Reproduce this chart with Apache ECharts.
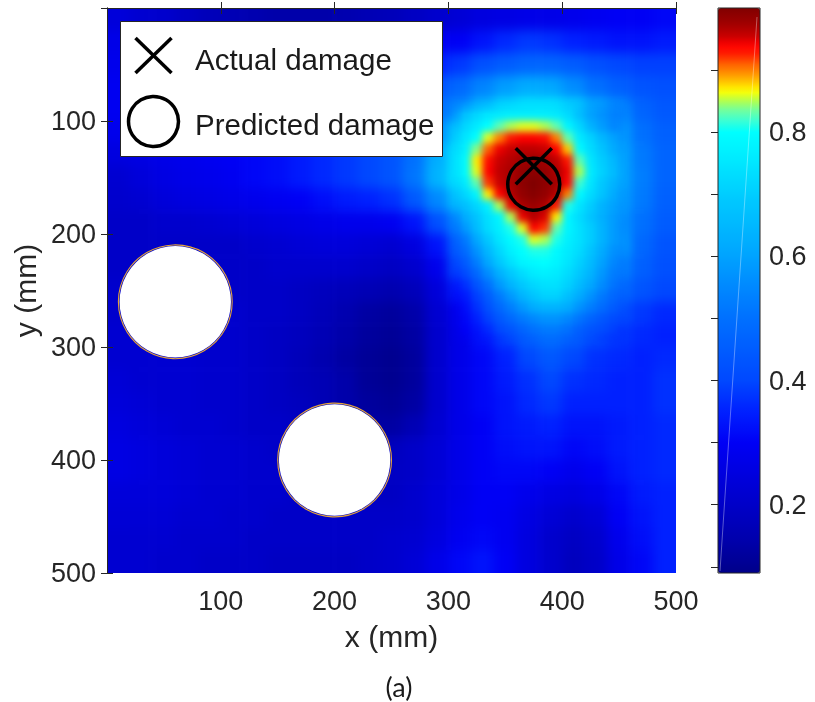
<!DOCTYPE html>
<html>
<head>
<meta charset="utf-8">
<script src="https://cdn.jsdelivr.net/npm/echarts@6/dist/echarts.min.js"></script>
<style>
html, body { margin: 0; padding: 0; background: #ffffff; }
#page { position: relative; width: 815px; height: 702px; overflow: hidden; }
/* the damage field sits inside the plot rectangle, shaded smoothly */
#fieldClip { position: absolute; left: 107px; top: 8px; width: 569px; height: 565px; overflow: hidden; z-index: 1; }
#fieldCoarse, #fieldFine { position: absolute; left: -30px; top: -30px; width: 629px; height: 625px; }
#fieldCoarse { filter: blur(6px); }
#fieldFine { filter: blur(3.5px); }
#chart { position: absolute; left: 0; top: 0; width: 815px; height: 702px; z-index: 2; }
</style>
</head>
<body>
<div id="page">
  <div id="fieldClip">
    <div id="fieldCoarse"></div>
    <div id="fieldFine"></div>
  </div>
  <div id="chart"></div>
</div>
<script>
// Damage index over a 500 x 500 mm plate, sampled on 20 mm cells (cell centres)
const gridX = [10, 30, 50, 70, 90, 110, 130, 150, 170, 190, 210, 230, 250, 270, 290, 310, 330, 350, 370, 390, 410, 430, 450, 470, 490];
const gridY = [10, 30, 50, 70, 90, 110, 130, 150, 170, 190, 210, 230, 250, 270, 290, 310, 330, 350, 370, 390, 410, 430, 450, 470, 490];
const damageRows = [
  [0.24,0.22,0.21,0.19,0.17,0.16,0.15,0.14,0.14,0.14,0.15,0.16,0.17,0.19,0.21,0.23,0.25,0.26,0.27,0.27,0.28,0.29,0.30,0.30,0.31],
  [0.27,0.25,0.24,0.22,0.21,0.20,0.19,0.19,0.19,0.20,0.21,0.23,0.25,0.27,0.29,0.30,0.33,0.36,0.38,0.37,0.35,0.34,0.33,0.33,0.34],
  [0.28,0.27,0.26,0.25,0.24,0.24,0.24,0.24,0.25,0.26,0.27,0.29,0.31,0.33,0.35,0.38,0.42,0.45,0.47,0.47,0.45,0.42,0.40,0.39,0.39],
  [0.29,0.28,0.28,0.28,0.28,0.28,0.28,0.29,0.30,0.31,0.32,0.34,0.36,0.39,0.43,0.48,0.54,0.59,0.62,0.61,0.56,0.50,0.46,0.43,0.42],
  [0.29,0.29,0.29,0.29,0.29,0.29,0.30,0.31,0.32,0.33,0.35,0.37,0.39,0.43,0.50,0.55,0.65,0.73,0.76,0.76,0.72,0.62,0.56,0.47,0.44],
  [0.28,0.28,0.28,0.29,0.29,0.30,0.31,0.32,0.33,0.35,0.37,0.39,0.42,0.47,0.56,0.70,0.80,0.88,0.90,0.88,0.80,0.70,0.60,0.50,0.46],
  [0.25,0.26,0.27,0.28,0.29,0.30,0.31,0.32,0.34,0.36,0.38,0.40,0.43,0.50,0.62,0.75,0.90,0.95,0.97,0.96,0.90,0.72,0.62,0.52,0.47],
  [0.22,0.24,0.26,0.27,0.28,0.29,0.31,0.32,0.34,0.36,0.38,0.40,0.43,0.51,0.64,0.75,0.92,0.97,0.99,0.98,0.88,0.73,0.62,0.53,0.47],
  [0.21,0.22,0.24,0.25,0.26,0.27,0.28,0.29,0.30,0.32,0.34,0.35,0.37,0.44,0.55,0.68,0.80,0.95,0.98,0.95,0.80,0.70,0.60,0.52,0.46],
  [0.20,0.20,0.21,0.21,0.22,0.23,0.24,0.25,0.26,0.27,0.28,0.28,0.29,0.33,0.42,0.55,0.73,0.80,0.93,0.90,0.78,0.68,0.58,0.50,0.45],
  [0.20,0.20,0.20,0.20,0.20,0.20,0.21,0.22,0.23,0.24,0.24,0.23,0.22,0.25,0.33,0.48,0.68,0.78,0.83,0.82,0.76,0.70,0.60,0.48,0.43],
  [0.20,0.20,0.20,0.20,0.20,0.20,0.20,0.21,0.21,0.21,0.21,0.20,0.19,0.21,0.28,0.42,0.60,0.72,0.78,0.78,0.73,0.65,0.55,0.46,0.42],
  [0.21,0.20,0.20,0.20,0.20,0.20,0.20,0.20,0.19,0.18,0.17,0.16,0.15,0.17,0.24,0.34,0.48,0.62,0.72,0.74,0.68,0.58,0.49,0.43,0.40],
  [0.21,0.21,0.21,0.21,0.21,0.21,0.20,0.20,0.19,0.17,0.15,0.13,0.12,0.14,0.22,0.28,0.36,0.46,0.55,0.60,0.56,0.48,0.42,0.38,0.36],
  [0.22,0.22,0.22,0.21,0.21,0.21,0.20,0.19,0.18,0.16,0.14,0.12,0.11,0.13,0.21,0.27,0.33,0.39,0.46,0.50,0.46,0.41,0.38,0.36,0.35],
  [0.22,0.22,0.22,0.22,0.21,0.21,0.20,0.19,0.17,0.15,0.13,0.11,0.10,0.12,0.21,0.27,0.31,0.35,0.40,0.44,0.40,0.37,0.36,0.35,0.36],
  [0.23,0.22,0.22,0.22,0.21,0.21,0.20,0.19,0.17,0.16,0.14,0.11,0.10,0.12,0.21,0.27,0.31,0.34,0.37,0.40,0.37,0.36,0.35,0.35,0.37],
  [0.24,0.23,0.22,0.22,0.21,0.21,0.20,0.19,0.18,0.16,0.14,0.12,0.11,0.13,0.21,0.27,0.31,0.33,0.36,0.38,0.35,0.35,0.35,0.35,0.37],
  [0.25,0.24,0.23,0.22,0.22,0.21,0.20,0.20,0.19,0.17,0.15,0.13,0.13,0.16,0.22,0.27,0.30,0.33,0.34,0.35,0.33,0.33,0.34,0.35,0.36],
  [0.26,0.25,0.24,0.23,0.22,0.22,0.21,0.20,0.20,0.18,0.16,0.16,0.18,0.20,0.23,0.27,0.30,0.32,0.33,0.33,0.31,0.32,0.34,0.35,0.36],
  [0.26,0.25,0.24,0.23,0.22,0.22,0.21,0.21,0.20,0.19,0.18,0.18,0.19,0.20,0.23,0.27,0.30,0.31,0.31,0.30,0.28,0.30,0.33,0.35,0.36],
  [0.24,0.24,0.24,0.23,0.22,0.22,0.21,0.21,0.20,0.20,0.19,0.19,0.19,0.21,0.24,0.27,0.30,0.30,0.28,0.26,0.25,0.27,0.31,0.34,0.35],
  [0.23,0.23,0.23,0.22,0.22,0.21,0.21,0.20,0.20,0.20,0.20,0.20,0.20,0.21,0.24,0.28,0.30,0.29,0.26,0.23,0.21,0.23,0.30,0.33,0.35],
  [0.22,0.22,0.22,0.21,0.21,0.21,0.20,0.20,0.20,0.20,0.20,0.20,0.21,0.22,0.25,0.29,0.31,0.29,0.25,0.21,0.19,0.21,0.28,0.32,0.35],
  [0.22,0.22,0.21,0.21,0.20,0.20,0.20,0.19,0.19,0.19,0.19,0.20,0.21,0.23,0.27,0.31,0.33,0.30,0.25,0.21,0.18,0.20,0.27,0.31,0.35]
];

// Finer 10 mm sampling around the damage hot spot and the halo below it
const patchX = [305, 315, 325, 335, 345, 355, 365, 375, 385, 395, 405, 415, 425, 435, 445, 455];
const patchY = [85, 95, 105, 115, 125, 135, 145, 155, 165, 175, 185, 195, 205, 215, 225, 235, 245, 255, 265, 275, 285, 295];
const patchRows = [
  [0.57,0.62,0.66,0.69,0.71,0.72,0.72,0.72,0.72,0.71,0.68,0.63,0.58,0.55,0.52,0.49],
  [0.62,0.67,0.72,0.75,0.76,0.77,0.77,0.77,0.77,0.76,0.73,0.67,0.60,0.57,0.54,0.51],
  [0.65,0.72,0.76,0.80,0.83,0.85,0.86,0.86,0.85,0.83,0.78,0.72,0.64,0.59,0.55,0.52],
  [0.70,0.75,0.80,0.86,0.90,0.93,0.94,0.94,0.935,0.90,0.83,0.76,0.71,0.65,0.60,0.55],
  [0.72,0.77,0.84,0.91,0.945,0.955,0.96,0.96,0.955,0.94,0.88,0.79,0.73,0.68,0.62,0.57],
  [0.74,0.79,0.87,0.935,0.955,0.965,0.975,0.98,0.975,0.96,0.93,0.83,0.75,0.70,0.65,0.59],
  [0.74,0.79,0.86,0.94,0.96,0.97,0.985,0.99,0.985,0.97,0.945,0.85,0.76,0.71,0.66,0.60],
  [0.71,0.76,0.83,0.92,0.955,0.97,0.99,1.0,0.99,0.975,0.94,0.82,0.75,0.69,0.64,0.59],
  [0.67,0.72,0.78,0.87,0.94,0.965,0.985,0.995,0.985,0.965,0.90,0.79,0.73,0.68,0.62,0.57],
  [0.62,0.67,0.72,0.77,0.85,0.945,0.97,0.98,0.97,0.93,0.81,0.75,0.70,0.64,0.60,0.56],
  [0.55,0.62,0.68,0.74,0.78,0.85,0.945,0.965,0.95,0.87,0.78,0.73,0.68,0.63,0.59,0.55],
  [0.50,0.58,0.66,0.73,0.77,0.81,0.86,0.94,0.92,0.83,0.78,0.74,0.70,0.64,0.59,0.54],
  [0.45,0.52,0.61,0.69,0.75,0.79,0.81,0.86,0.85,0.81,0.77,0.74,0.70,0.64,0.59,0.54],
  [0.42,0.49,0.57,0.65,0.72,0.77,0.80,0.81,0.81,0.79,0.76,0.73,0.68,0.62,0.57,0.52],
  [0.39,0.45,0.53,0.61,0.69,0.74,0.78,0.79,0.80,0.78,0.75,0.71,0.66,0.60,0.55,0.50],
  [0.36,0.41,0.48,0.56,0.63,0.69,0.73,0.76,0.77,0.76,0.73,0.69,0.64,0.58,0.53,0.49],
  [0.33,0.37,0.43,0.50,0.58,0.64,0.69,0.72,0.74,0.74,0.71,0.66,0.61,0.56,0.51,0.47],
  [0.31,0.34,0.39,0.45,0.52,0.58,0.64,0.68,0.71,0.71,0.67,0.62,0.57,0.52,0.48,0.44],
  [0.29,0.32,0.37,0.42,0.48,0.53,0.58,0.62,0.64,0.64,0.62,0.57,0.53,0.49,0.45,0.42],
  [0.28,0.31,0.35,0.39,0.44,0.48,0.52,0.55,0.57,0.57,0.55,0.51,0.47,0.44,0.41,0.39],
  [0.27,0.30,0.33,0.36,0.40,0.43,0.47,0.50,0.52,0.52,0.50,0.46,0.43,0.41,0.39,0.37],
  [0.27,0.29,0.32,0.34,0.37,0.40,0.43,0.46,0.48,0.48,0.46,0.43,0.40,0.38,0.37,0.36]
];

// Plate geometry and damage locations (mm)
const holeCenters = [[60, 260], [200, 400]];
const holeRadius = 50;
const actualDamage = [[375, 140]];
const predictedDamage = [[375, 156]];

// Axis and colour-bar ticks
const plateRange = [0, 500];
const colorbarRange = [0.09, 1.0];
const colorbarTicks = [0.1, 0.2, 0.3, 0.4, 0.5, 0.6, 0.7, 0.8, 0.9];
const colorbarLabels = [0.2, 0.4, 0.6, 0.8];

// Colour map anchors (value, colour): jet-like, stretched over the blue range
const colormapStops = [
  [0.09, '#00008a'], [0.15, '#0000b0'], [0.20, '#0000c8'], [0.30, '#0000f5'],
  [0.35, '#0020ff'], [0.40, '#0048ff'], [0.50, '#0070ff'], [0.55, '#0088ff'],
  [0.61, '#00a8ff'], [0.69, '#00c8ff'], [0.80, '#00ffff'], [0.82, '#40ffd0'],
  [0.835, '#70ffa0'], [0.85, '#b0ff50'], [0.866, '#ffff00'], [0.88, '#ffc800'],
  [0.895, '#ff9000'], [0.91, '#ff6000'], [0.925, '#ff2000'], [0.94, '#ff0000'],
  [0.955, '#c80000'], [0.975, '#a00000'], [1.0, '#800000']
];

function hexToRgb(h) {
  return [parseInt(h.slice(1, 3), 16), parseInt(h.slice(3, 5), 16), parseInt(h.slice(5, 7), 16)];
}
function colourAt(v) {
  for (let i = 1; i < colormapStops.length; i++) {
    const [v1, c1] = colormapStops[i];
    const [v0, c0] = colormapStops[i - 1];
    if (v <= v1) {
      const t = (v - v0) / (v1 - v0);
      const a = hexToRgb(c0), b = hexToRgb(c1);
      const rgb = a.map((x, k) => Math.round(x + (b[k] - x) * t));
      return 'rgb(' + rgb.join(',') + ')';
    }
  }
  return colormapStops[colormapStops.length - 1][1];
}
// Evenly spaced palette for the continuous visual maps
const palette = [];
const paletteSteps = 182;
for (let i = 0; i <= paletteSteps; i++) {
  palette.push(colourAt(colorbarRange[0] + (colorbarRange[1] - colorbarRange[0]) * i / paletteSteps));
}

function cellData(xs, ys, rows) {
  const out = [];
  rows.forEach((row, i) => row.forEach((v, j) => out.push([xs[j], ys[i], v])));
  return out;
}

// Cell rectangles; cells on the plate border are stretched past the edge so the
// smooth shading stays solid right up to the frame.
function cellRenderer(half, ext) {
  return function (params, api) {
    const x = api.value(0), y = api.value(1);
    const p0 = api.coord([x - half, y - half]);
    const p1 = api.coord([x + half, y + half]);
    let x0 = Math.min(p0[0], p1[0]), x1 = Math.max(p0[0], p1[0]);
    let y0 = Math.min(p0[1], p1[1]), y1 = Math.max(p0[1], p1[1]);
    if (ext) {
      if (x - half <= plateRange[0]) x0 -= ext;
      if (x + half >= plateRange[1]) x1 += ext;
      if (y - half <= plateRange[0]) y0 -= ext;
      if (y + half >= plateRange[1]) y1 += ext;
    }
    return {
      type: 'rect',
      shape: { x: x0 - 0.3, y: y0 - 0.3, width: x1 - x0 + 0.6, height: y1 - y0 + 0.6 },
      style: { fill: api.visual('color') }
    };
  };
}

function fieldOption(name, half, ext, xs, ys, rows) {
  return {
    animation: false,
    grid: { left: 30, top: 30, width: 569, height: 565 },
    xAxis: { type: 'value', min: plateRange[0], max: plateRange[1], show: false },
    yAxis: { type: 'value', min: plateRange[0], max: plateRange[1], inverse: true, show: false },
    visualMap: {
      show: false, type: 'continuous', min: colorbarRange[0], max: colorbarRange[1],
      dimension: 2, inRange: { color: palette }
    },
    series: [{
      type: 'custom', name: name, coordinateSystem: 'cartesian2d', clip: false, silent: true,
      renderItem: cellRenderer(half, ext), encode: { x: 0, y: 1 },
      data: cellData(xs, ys, rows)
    }]
  };
}

echarts.init(document.getElementById('fieldCoarse'), null, { renderer: 'canvas' })
  .setOption(fieldOption('damage index', 10, 30, gridX, gridY, damageRows));

const fineEl = document.getElementById('fieldFine');
const fineChart = echarts.init(fineEl, null, { renderer: 'canvas' });
fineChart.setOption(fieldOption('damage index (hot spot)', 5, 0, patchX, patchY, patchRows));

// Feather the edges of the fine patch so it blends into the coarse field
(function featherPatch() {
  const lo = fineChart.convertToPixel({ gridIndex: 0 }, [patchX[0] - 5, patchY[0] - 5]);
  const hi = fineChart.convertToPixel({ gridIndex: 0 }, [patchX[patchX.length - 1] + 5, patchY[patchY.length - 1] + 5]);
  const l = Math.min(lo[0], hi[0]), r = Math.max(lo[0], hi[0]);
  const t = Math.min(lo[1], hi[1]), b = Math.max(lo[1], hi[1]);
  const f = 16;
  const h = 'linear-gradient(to right, transparent ' + l + 'px, #000 ' + (l + f) + 'px, #000 ' + (r - f) + 'px, transparent ' + r + 'px)';
  const v = 'linear-gradient(to bottom, transparent ' + t + 'px, #000 ' + (t + f) + 'px, #000 ' + (b - f) + 'px, transparent ' + b + 'px)';
  fineEl.style.webkitMaskImage = h + ', ' + v;
  fineEl.style.webkitMaskComposite = 'source-in';
  fineEl.style.maskImage = h + ', ' + v;
  fineEl.style.maskComposite = 'intersect';
})();

const FONT = "'Liberation Sans', Arial, Helvetica, sans-serif";
const INK = '#262626';

const plateAxis = {
  type: 'value', min: plateRange[0], max: plateRange[1], interval: 100, gridIndex: 0, z: 10,
  axisLine: { show: true, lineStyle: { color: INK, width: 1 } },
  axisTick: { show: true, inside: true, length: 6, lineStyle: { color: INK, width: 1 } },
  splitLine: { show: false }
};

const chart = echarts.init(document.getElementById('chart'), null, { renderer: 'svg' });
chart.setOption({
  animation: false,
  backgroundColor: 'transparent',
  grid: [
    { left: 107, top: 8, width: 569, height: 565 },
    { left: 718, top: 8, width: 42, height: 565, show: true, borderColor: INK, borderWidth: 1, backgroundColor: 'transparent', z: 10 }
  ],
  xAxis: [
    Object.assign({}, plateAxis, {
      position: 'bottom',
      axisLabel: { showMinLabel: false, fontSize: 27, color: INK, fontFamily: FONT, margin: 14 },
      name: 'x (mm)', nameLocation: 'middle', nameGap: 63,
      nameTextStyle: { fontSize: 30, color: INK, fontFamily: FONT, verticalAlign: 'middle' }
    }),
    Object.assign({}, plateAxis, { position: 'top', axisLabel: { show: false } }),
    { type: 'value', gridIndex: 1, min: 0, max: 1, show: false }
  ],
  yAxis: [
    Object.assign({}, plateAxis, {
      position: 'left', inverse: true,
      axisLabel: { showMinLabel: false, fontSize: 27, color: INK, fontFamily: FONT, margin: 11 },
      name: 'y (mm)', nameLocation: 'middle', nameGap: 72,
      nameTextStyle: { fontSize: 30, color: INK, fontFamily: FONT, verticalAlign: 'middle' }
    }),
    Object.assign({}, plateAxis, { position: 'right', inverse: true, axisLabel: { show: false } }),
    {
      type: 'value', gridIndex: 1, position: 'right', z: 12,
      min: colorbarRange[0], max: colorbarRange[1],
      axisLine: { show: false },
      splitLine: { show: false },
      axisTick: { show: true, inside: true, length: 7, lineStyle: { color: INK, width: 1 }, customValues: colorbarTicks },
      axisLabel: { show: true, fontSize: 27, color: INK, fontFamily: FONT, margin: 9,
        customValues: colorbarLabels, formatter: v => v.toFixed(1) }
    }
  ],
  visualMap: {
    type: 'continuous',
    min: colorbarRange[0], max: colorbarRange[1],
    seriesIndex: [],
    calculable: false,
    hoverLink: false,
    left: 718, top: 8,
    itemWidth: 42, itemHeight: 565,
    padding: 0,
    inRange: { color: palette }
  },
  series: [
    {
      type: 'custom', name: 'holes', coordinateSystem: 'cartesian2d',
      xAxisIndex: 0, yAxisIndex: 0, z: 3, silent: true,
      renderItem: function (params, api) {
        const c = api.coord([api.value(0), api.value(1)]);
        const r = api.size([holeRadius, holeRadius])[0];
        return {
          type: 'group',
          children: [
            { type: 'circle', shape: { cx: c[0], cy: c[1], r: r - 1.2 }, style: { fill: '#ffffff' } },
            { type: 'circle', shape: { cx: c[0], cy: c[1], r: r }, style: { fill: null, stroke: '#e2a33a', lineWidth: 1.1 } }
          ]
        };
      },
      data: holeCenters
    },
    {
      type: 'custom', name: 'Actual damage', coordinateSystem: 'cartesian2d',
      xAxisIndex: 0, yAxisIndex: 0, z: 5, silent: true,
      renderItem: function (params, api) {
        const c = api.coord([api.value(0), api.value(1)]);
        const h = 18;
        const st = { stroke: '#000000', lineWidth: 3.5 };
        return {
          type: 'group',
          children: [
            { type: 'line', shape: { x1: c[0] - h, y1: c[1] - h, x2: c[0] + h, y2: c[1] + h }, style: st },
            { type: 'line', shape: { x1: c[0] - h, y1: c[1] + h, x2: c[0] + h, y2: c[1] - h }, style: st }
          ]
        };
      },
      data: actualDamage
    },
    {
      type: 'custom', name: 'Predicted damage', coordinateSystem: 'cartesian2d',
      xAxisIndex: 0, yAxisIndex: 0, z: 5, silent: true,
      renderItem: function (params, api) {
        const c = api.coord([api.value(0), api.value(1)]);
        return { type: 'circle', shape: { cx: c[0], cy: c[1], r: 26 }, style: { fill: null, stroke: '#000000', lineWidth: 3.5 } };
      },
      data: predictedDamage
    }
  ],
  graphic: [
    // legend box
    { type: 'rect', z: 100, shape: { x: 120.5, y: 21.5, width: 322, height: 135 }, style: { fill: '#ffffff', stroke: INK, lineWidth: 1 } },
    { type: 'line', z: 101, shape: { x1: 135.5, y1: 38, x2: 171.5, y2: 73 }, style: { stroke: '#000000', lineWidth: 3.5 } },
    { type: 'line', z: 101, shape: { x1: 135.5, y1: 73, x2: 171.5, y2: 38 }, style: { stroke: '#000000', lineWidth: 3.5 } },
    { type: 'circle', z: 101, shape: { cx: 153.5, cy: 121.5, r: 25 }, style: { fill: null, stroke: '#000000', lineWidth: 3.5 } },
    { type: 'text', z: 101, x: 195, y: 59, style: { text: 'Actual damage', font: "29.5px 'Liberation Sans', Arial, sans-serif", fill: '#1a1a1a', verticalAlign: 'middle' } },
    { type: 'text', z: 101, x: 195, y: 124, style: { text: 'Predicted damage', font: "29.5px 'Liberation Sans', Arial, sans-serif", fill: '#1a1a1a', verticalAlign: 'middle' } },
    // faint streak across the colour bar
    { type: 'line', z: 20, shape: { x1: 757, y1: 17, x2: 720, y2: 571 }, style: { stroke: 'rgba(255,255,255,0.35)', lineWidth: 1 } },
    // panel caption
    { type: 'text', z: 100, x: 399, y: 686, style: { text: '(a)', font: "27px Lato, 'Open Sans', sans-serif", fill: '#1a1a1a', align: 'center', verticalAlign: 'middle' } }
  ]
});
</script>
</body>
</html>
